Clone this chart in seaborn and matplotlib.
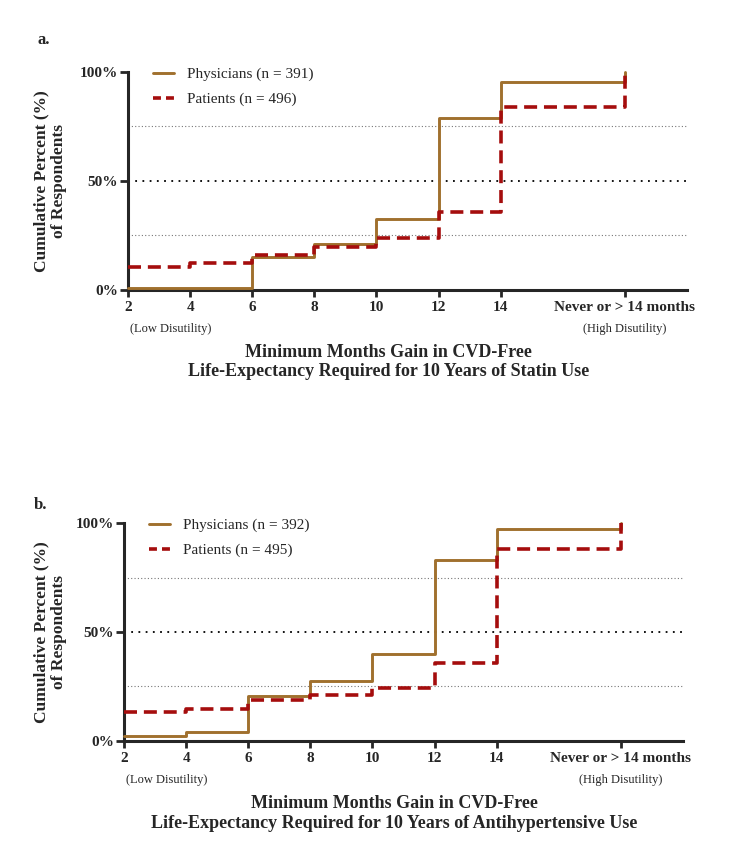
import matplotlib
matplotlib.use('Agg')
import matplotlib.pyplot as plt
import seaborn as sns
import pandas as pd

# Cumulative percent of respondents by minimum months gain
month_labels = ['2', '4', '6', '8', '10', '12', '14', 'Never or > 14 months']
month_pos = [2, 4, 6, 8, 10, 12, 14, 18]

# panel a — statin use
phys_a = [0.8, 1.0, 15, 21, 32.5, 79, 95.5, 100]
pat_a = [10.5, 12.4, 16, 19.5, 24, 36, 84, 100]
# panel b — antihypertensive use
phys_b = [2.3, 4, 20.6, 27.3, 39.7, 83, 97.3, 100]
pat_b = [13.4, 14.8, 18.8, 20.9, 24.4, 35.8, 88, 100]

BROWN = '#A0702E'
RED = '#A50D0D'

sns.set_style('ticks')
plt.rcParams['font.family'] = ['Liberation Serif', 'DejaVu Serif']

fig = plt.figure(figsize=(7.48, 8.58), dpi=100)


def draw_panel(rect, phys, pat, n_phys, n_pat, letter, letter_xy, xlab_x, xlab_y, ylab_y, xlab2):
    ax = fig.add_axes(rect)
    for yv, c, lw in [(25, '#777777', 0.8), (75, '#777777', 0.8), (50, 'black', 1.3)]:
        ax.axhline(yv, color=c, lw=lw, ls=(0, (1, 3)) if yv == 50 else (0, (1, 2)), zorder=1)
    sns.lineplot(x=month_pos, y=phys, color=BROWN, linewidth=2.1,
                 estimator=None, sort=False, drawstyle='steps-post', ax=ax, zorder=3,
                 label=f'Physicians (n = {n_phys})', clip_on=False)
    sns.lineplot(x=month_pos, y=pat, color=RED, linewidth=2.6, dashes=(3.6, 1.9),
                 estimator=None, sort=False, drawstyle='steps-post', ax=ax, zorder=3,
                 label=f'Patients (n = {n_pat})', clip_on=False)
    ax.set_xlim(2, 20)
    ax.set_ylim(0, 100)
    ax.set_xticks(month_pos)
    ax.set_xticklabels(month_labels, fontweight='bold', fontsize=11)
    ax.set_yticks([0, 50, 100])
    ax.set_yticklabels(['0%', '50%', '100%'], fontweight='bold', fontsize=11)
    ax.tick_params(axis='y', width=2, length=6, pad=1)
    ax.tick_params(axis='x', width=2, length=5, pad=3)
    for s in ['left', 'bottom']:
        ax.spines[s].set_linewidth(2.2)
    sns.despine(ax=ax)
    ax.set_xlabel('')
    ax.set_ylabel('')
    leg = ax.legend(loc='upper left', bbox_to_anchor=(0.02, 1.085), frameon=False,
                    fontsize=11, handlelength=1.4, handletextpad=0.8, labelspacing=0.75)
    leg.get_lines()[1].set_dashes((2.2, 1.4))
    ax.text(2.05, -15, '(Low Disutility)', fontsize=9, ha='left', va='top')
    ax.text(18, -15, '(High Disutility)', fontsize=9, ha='center', va='top')
    fig.text(xlab_x, xlab_y, 'Minimum Months Gain in CVD-Free\n' + xlab2,
             ha='center', va='center', fontweight='bold', fontsize=13, linespacing=1.2)
    fig.text(0.067, ylab_y, 'Cumulative Percent (%)\nof Respondents', rotation=90,
             ha='center', va='center', fontweight='bold', fontsize=12.5, linespacing=1.1)
    fig.text(letter_xy[0], letter_xy[1], letter, fontweight='bold', fontsize=12,
             ha='left', va='center')
    return ax


draw_panel([0.1711, 0.662, 0.7473, 0.2541], phys_a, pat_a, 391, 496, 'a.',
           (0.050, 0.953), 0.519, 0.578, 0.789,
           'Life-Expectancy Required for 10 Years of Statin Use')
draw_panel([0.1658, 0.1364, 0.7473, 0.254], phys_b, pat_b, 392, 495, 'b.',
           (0.045, 0.411), 0.527, 0.052, 0.263,
           'Life-Expectancy Required for 10 Years of Antihypertensive Use')

fig.savefig('out.png', dpi=100)
